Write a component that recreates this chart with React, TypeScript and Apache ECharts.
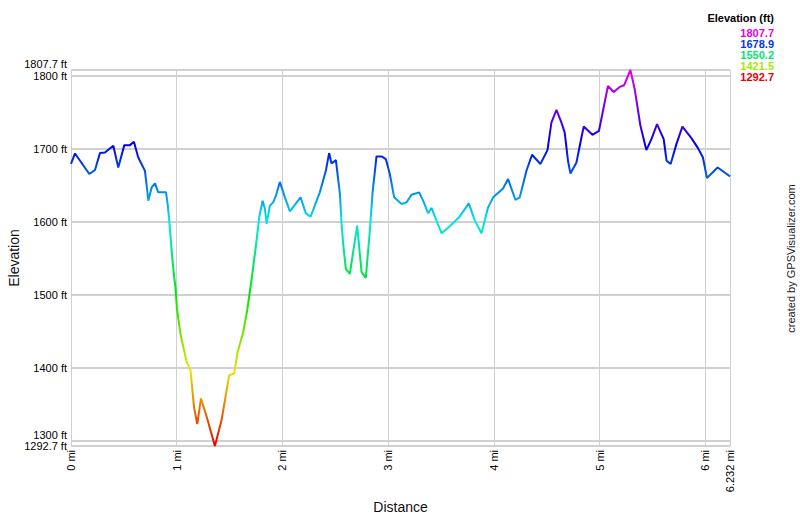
import React, { useEffect, useRef } from "react";
import * as echarts from "echarts";

const distanceMi: number[] = [
  0, 0.038, 0.173, 0.227, 0.274, 0.321, 0.4, 0.447, 0.504, 0.558, 0.595, 0.636,
  0.699, 0.721, 0.731, 0.763, 0.794, 0.825, 0.898, 0.914, 0.929, 0.942, 0.957,
  0.976, 0.988, 1.002, 1.037, 1.094, 1.131, 1.163, 1.194, 1.229, 1.283, 1.361,
  1.424, 1.496, 1.543, 1.576, 1.629, 1.666, 1.708, 1.749, 1.78, 1.812, 1.834,
  1.85, 1.881, 1.912, 1.938, 1.975, 2.023, 2.07, 2.171, 2.221, 2.266, 2.353,
  2.41, 2.441, 2.464, 2.505, 2.543, 2.559, 2.574, 2.599, 2.637, 2.706, 2.748,
  2.788, 2.826, 2.852, 2.889, 2.937, 2.977, 3.015, 3.056, 3.126, 3.173, 3.22,
  3.292, 3.33, 3.377, 3.409, 3.45, 3.504, 3.582, 3.67, 3.762, 3.819, 3.882,
  3.944, 3.992, 4.086, 4.133, 4.203, 4.244, 4.307, 4.36, 4.439, 4.506, 4.543,
  4.591, 4.638, 4.669, 4.7, 4.723, 4.78, 4.827, 4.849, 4.931, 4.993, 5.078,
  5.132, 5.189, 5.23, 5.29, 5.331, 5.385, 5.441, 5.489, 5.542, 5.605, 5.632,
  5.671, 5.725, 5.782, 5.867, 5.929, 5.976, 6.014, 6.115, 6.232,
];

const elevationFt: number[] = [
  1679, 1693.4, 1665.2, 1670.7, 1693.9, 1694.7, 1703.9, 1674.2, 1704.8, 1704.8,
  1709.3, 1687.9, 1669.7, 1642.4, 1628.7, 1646.9, 1652.4, 1640.1, 1640.1,
  1624.2, 1601.4, 1578.6, 1551.3, 1524, 1510, 1480, 1444.3, 1407.8, 1395.6,
  1346.4, 1322.7, 1357.8, 1332.7, 1292.7, 1328.2, 1389.7, 1392, 1421.5, 1448.8,
  1478.5, 1521, 1567.3, 1606, 1628.7, 1617.4, 1596.9, 1621.9, 1626.4, 1635.6,
  1654.4, 1633.3, 1614.1, 1633.3, 1611.4, 1606.9, 1640.1, 1669.7, 1693.9,
  1679.7, 1684.3, 1637.9, 1596.9, 1569.6, 1535.4, 1528.6, 1594.6, 1530.8, 1523,
  1587.8, 1640.1, 1689.3, 1689.3, 1685.7, 1665.2, 1633.3, 1624.2, 1626.4,
  1636.9, 1640.1, 1628.7, 1611.4, 1618.8, 1603.7, 1584.1, 1593.6, 1605.9, 1625,
  1601.4, 1584.1, 1619.6, 1633.3, 1645.5, 1658.4, 1629.7, 1633.3, 1669.7,
  1691.6, 1678.9, 1698, 1735.7, 1753, 1735.7, 1722, 1683.4, 1666, 1681.1,
  1715.2, 1730.2, 1718.9, 1724.4, 1785.8, 1777.6, 1784.5, 1786.8, 1807.7,
  1781.3, 1731.2, 1698, 1713, 1733.5, 1713, 1683.4, 1678.9, 1706.2, 1730.2,
  1714.4, 1700.7, 1687.9, 1659.7, 1674.2, 1662,
];

const ELEV_MIN = 1292.7;
const ELEV_MAX = 1807.7;
const DIST_MAX = 6.232;

const yTicks: number[] = [1300, 1400, 1500, 1600, 1700, 1800];
const yExtremeTicks: number[] = [ELEV_MIN, ELEV_MAX];
const xTicks: number[] = [0, 1, 2, 3, 4, 5, 6, 6.232];
const legendValues: number[] = [1807.7, 1678.9, 1550.2, 1421.5, 1292.7];
const hueStops: string[] = ["#e80000", "#e6e600", "#00e600", "#00e6e6", "#0000e6", "#e600e6"];

const FONT = "'Liberation Sans', Arial, sans-serif";

function hexToRgb(h: string): number[] {
  return [1, 3, 5].map((i) => parseInt(h.slice(i, i + 2), 16));
}
function colorFor(v: number): string {
  const t = Math.max(0, Math.min(1, (v - ELEV_MIN) / (ELEV_MAX - ELEV_MIN)));
  const seg = t * (hueStops.length - 1);
  const i = Math.min(hueStops.length - 2, Math.floor(seg));
  const f = seg - i;
  const a = hexToRgb(hueStops[i]);
  const b = hexToRgb(hueStops[i + 1]);
  const c = a.map((x, k) => Math.round(x + (b[k] - x) * f));
  return `rgb(${c[0]},${c[1]},${c[2]})`;
}

const labelBase = {
  showMinLabel: true,
  showMaxLabel: true,
  hideOverlap: false,
  margin: 4,
  fontSize: 11,
  lineHeight: 11,
  fontFamily: FONT,
  color: "#000",
};
const upRich = {
  up: { padding: [0, 0, 12, 0], fontSize: 11, lineHeight: 11, fontFamily: FONT, color: "#000" },
};

export default function App() {
  const ref = useRef<HTMLDivElement>(null);
  useEffect(() => {
    if (!ref.current) return;
    const chart = echarts.init(ref.current, undefined, { renderer: "svg" });
    const data = distanceMi.map((d, i) => [d, elevationFt[i]]);
    const legendGraphics: any[] = [
      {
        type: "text",
        right: 26,
        top: 12,
        style: { text: "Elevation (ft)", font: `bold 11px ${FONT}`, fill: "#000" },
      },
      ...legendValues.map((v, i) => ({
        type: "text",
        right: 26,
        top: 27 + i * 11,
        style: { text: v.toFixed(1), font: `bold 11px ${FONT}`, fill: colorFor(v) },
      })),
      {
        type: "text",
        left: 785,
        top: "middle",
        rotation: Math.PI / 2,
        style: { text: "created by GPSVisualizer.com", font: `11px ${FONT}`, fill: "#222" },
      },
    ];
    chart.setOption({
      animation: false,
      backgroundColor: "#fff",
      grid: {
        left: 71,
        right: 70,
        top: 70,
        bottom: 71,
        containLabel: false,
        outerBoundsMode: "none",
      },
      visualMap: {
        show: false,
        type: "continuous",
        dimension: 1,
        seriesIndex: 0,
        min: ELEV_MIN,
        max: ELEV_MAX,
        inRange: { color: hueStops },
      },
      xAxis: {
        type: "value",
        min: 0,
        max: DIST_MAX,
        name: "Distance",
        nameLocation: "middle",
        nameGap: 54,
        nameMoveOverlap: false,
        nameTextStyle: { fontSize: 14, fontFamily: FONT, color: "#111" },
        axisLine: { show: false },
        axisTick: { show: false, customValues: xTicks },
        axisLabel: {
          ...labelBase,
          customValues: xTicks,
          rotate: 90,
          formatter: (v: number) => `${v} mi`,
        },
        splitLine: { show: true, lineStyle: { color: "#d0d0d0", width: 1 } },
      },
      yAxis: [
        {
          type: "value",
          min: ELEV_MIN,
          max: ELEV_MAX,
          position: "left",
          name: "Elevation",
          nameLocation: "middle",
          nameGap: 50,
          nameMoveOverlap: false,
          nameTextStyle: { fontSize: 14, fontFamily: FONT, color: "#111" },
          axisLine: { show: false },
          axisTick: { show: false, customValues: yTicks },
          axisLabel: {
            ...labelBase,
            customValues: yTicks,
            formatter: (v: number) => (v === 1300 ? `{up|${v} ft}` : `${v} ft`),
            rich: upRich,
          },
          splitLine: { show: true, lineStyle: { color: "#d0d0d0", width: 2 } },
        },
        {
          type: "value",
          min: ELEV_MIN,
          max: ELEV_MAX,
          position: "left",
          offset: 0,
          axisLine: { show: false },
          axisTick: { show: false, customValues: yExtremeTicks },
          axisLabel: {
            ...labelBase,
            customValues: yExtremeTicks,
            formatter: (v: number) => (v === ELEV_MAX ? `{up|${v} ft}` : `${v} ft`),
            rich: upRich,
          },
          splitLine: { show: true, lineStyle: { color: "#d0d0d0", width: 2 } },
        },
      ],
      series: [
        {
          type: "line",
          data,
          yAxisIndex: 0,
          showSymbol: false,
          symbol: "none",
          lineStyle: { width: 2 },
        },
      ],
      graphic: legendGraphics,
    });
    return () => chart.dispose();
  }, []);
  return (
    <div
      ref={ref}
      style={{ position: "fixed", left: 0, top: 0, width: 800, height: 517, background: "#fff" }}
    />
  );
}
